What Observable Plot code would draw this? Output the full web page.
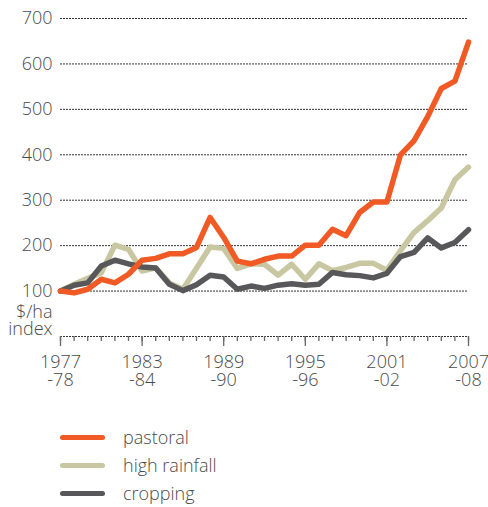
<!DOCTYPE html>
<html>
<head>
<meta charset="utf-8">
<script src="https://cdn.jsdelivr.net/npm/d3@7"></script>
<script src="https://cdn.jsdelivr.net/npm/@observablehq/plot@0.6"></script>
<style>
  body { margin: 0; background: #fff; font-family: "Open Sans", sans-serif; }
  #legend { padding-top: 23px; }
  .row { display: flex; align-items: center; height: 28px; }
  .sw { width: 45px; height: 5px; border-radius: 3px; margin-left: 60px; margin-right: 18px; }
  .lab { font-size: 18px; font-weight: 300; color: #4a4a4a; line-height: 28px; }
  svg text { font-weight: 300; }
</style>
</head>
<body>
<div id="chart"></div>
<div id="legend"></div>
<script>
const years = [1977,1978,1979,1980,1981,1982,1983,1984,1985,1986,1987,1988,1989,1990,1991,1992,1993,1994,1995,1996,1997,1998,1999,2000,2001,2002,2003,2004,2005,2006,2007];
const pastoral = [100,96,104,126,118,137,168,172,182,182,196,262,218,166,160,170,177,177,201,201,236,222,273,296,296,400,431,484,546,562,648];
const highRainfall = [100,115,128,140,201,192,144,151,118,104,150,197,194,150,160,159,135,159,126,160,145,152,161,161,146,189,229,255,283,345,373];
const cropping = [100,113,118,155,168,160,153,151,115,101,114,135,131,104,111,106,113,116,113,115,141,136,134,129,139,176,185,217,195,207,235];
const majorYears = [1977,1983,1989,1995,2001,2007];
const majorLabels = ["1977\n-78","1983\n-84","1989\n-90","1995\n-96","2001\n-02","2007\n-08"];
const yTicks = [100,200,300,400,500,600,700];
const gridTicks = [0,100,200,300,400,500,600,700];
const seriesNames = ["pastoral","high rainfall","cropping"];
const seriesColors = ["#f15a24","#c8c7a1","#58585a"];

const toRows = (vals) => years.map((y, i) => ({year: y, value: vals[i]}));
const textColor = "#4a4a4a";

const chart = Plot.plot({
  width: 488,
  height: 400,
  marginLeft: 60,
  marginRight: 20,
  marginTop: 18,
  marginBottom: 64,
  style: {fontFamily: "Open Sans, sans-serif", color: textColor, background: "#fff"},
  x: {domain: [1977, 2007]},
  y: {domain: [0, 700]},
  marks: [
    Plot.gridY(gridTicks, {stroke: "#333", strokeOpacity: 1, strokeWidth: 1, strokeDasharray: "2,1"}),
    Plot.axisY(yTicks, {tickSize: 0, tickPadding: 8, fontSize: 18, fill: textColor, label: null}),
    Plot.text(["$/ha\nindex"], {frameAnchor: "left", y: [0], dx: -8, dy: -2, textAnchor: "end", lineAnchor: "bottom", lineHeight: 0.92, fontSize: 18, fill: textColor}),
    Plot.axisX(years, {tickSize: 5, text: null, stroke: "#666", strokeWidth: 1.3, label: null}),
    Plot.axisX(majorYears, {tickSize: 10, tickPadding: 8, stroke: "#666", strokeWidth: 1.3, fontSize: 18, fill: textColor, lineHeight: 1.02,
      tickFormat: (d) => majorLabels[majorYears.indexOf(d)], label: null}),
    Plot.line(toRows(highRainfall), {x: "year", y: "value", stroke: seriesColors[1], strokeWidth: 5.5, strokeLinecap: "round"}),
    Plot.line(toRows(cropping), {x: "year", y: "value", stroke: seriesColors[2], strokeWidth: 5.5, strokeLinecap: "round"}),
    Plot.line(toRows(pastoral), {x: "year", y: "value", stroke: seriesColors[0], strokeWidth: 5.5, strokeLinecap: "round"})
  ]
});
document.getElementById("chart").appendChild(chart);

const legend = d3.select("#legend");
seriesNames.forEach((name, i) => {
  const row = legend.append("div").attr("class", "row");
  row.append("div").attr("class", "sw").style("background", seriesColors[i]);
  row.append("div").attr("class", "lab").text(name);
});
</script>
</body>
</html>
